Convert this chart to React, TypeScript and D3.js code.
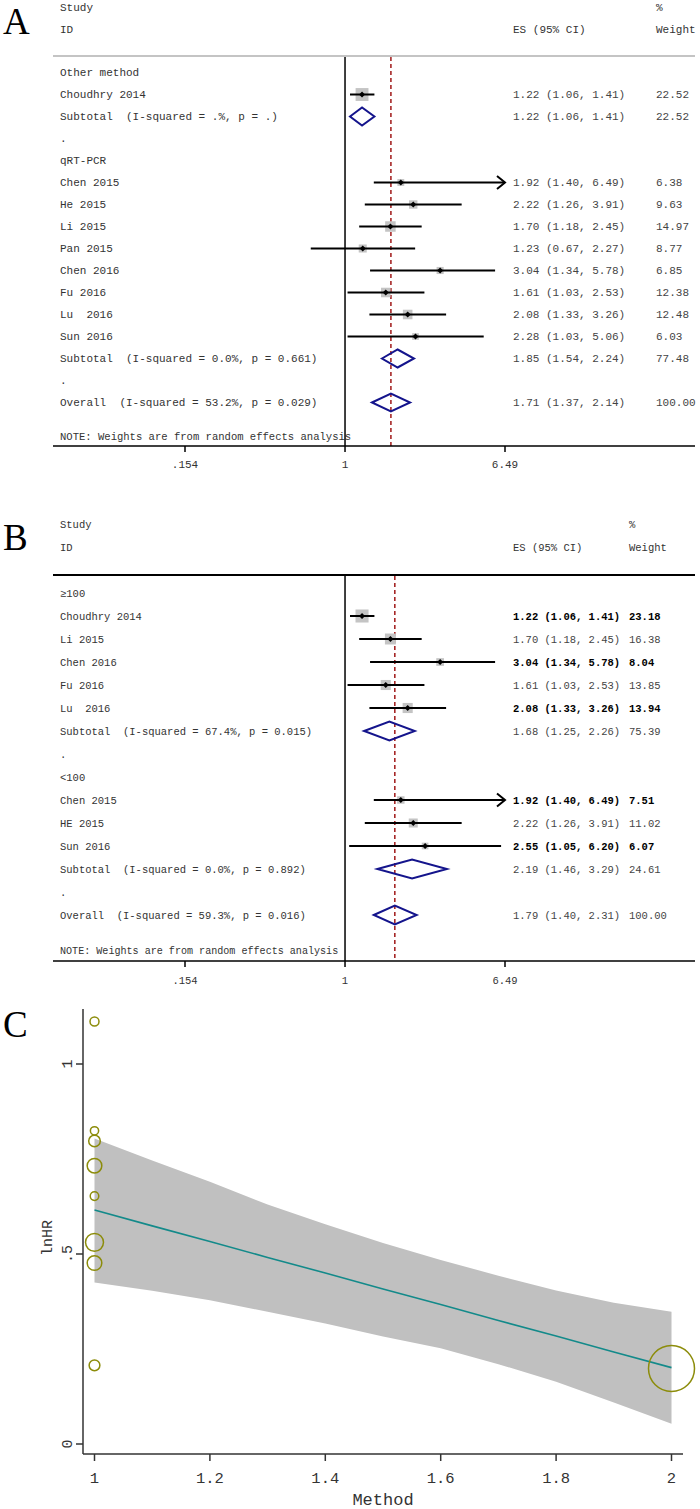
import * as d3 from 'd3';

const MONO = '"Liberation Mono", "DejaVu Sans Mono", monospace';
const SERIF = '"Liberation Serif", "Times New Roman", serif';

// panel A – subgroups by detection method
const aLabels = [
  'Other method', 'Choudhry 2014', 'Subtotal  (I-squared = .%, p = .)', '.',
  'qRT-PCR', 'Chen 2015', 'He 2015', 'Li 2015', 'Pan 2015', 'Chen 2016', 'Fu 2016',
  'Lu  2016', 'Sun 2016', 'Subtotal  (I-squared = 0.0%, p = 0.661)', '.',
  'Overall  (I-squared = 53.2%, p = 0.029)',
];
const aKinds = [
  'head', 'study', 'sub', 'blank', 'head', 'study', 'study', 'study', 'study', 'study',
  'study', 'study', 'study', 'sub', 'blank', 'sub',
];
const aES = [null, 1.22, 1.22, null, null, 1.92, 2.22, 1.70, 1.23, 3.04, 1.61, 2.08, 2.28, 1.85, null, 1.71];
const aLo = [null, 1.06, 1.06, null, null, 1.40, 1.26, 1.18, 0.67, 1.34, 1.03, 1.33, 1.03, 1.54, null, 1.37];
const aHi = [null, 1.41, 1.41, null, null, 6.49, 3.91, 2.45, 2.27, 5.78, 2.53, 3.26, 5.06, 2.24, null, 2.14];
const aWt = [null, 22.52, 22.52, null, null, 6.38, 9.63, 14.97, 8.77, 6.85, 12.38, 12.48, 6.03, 77.48, null, 100.0];
const aBold = aLabels.map(() => false);

// panel B – subgroups by sample size
const bLabels = [
  '≥100', 'Choudhry 2014', 'Li 2015', 'Chen 2016', 'Fu 2016', 'Lu  2016',
  'Subtotal  (I-squared = 67.4%, p = 0.015)', '.', '<100', 'Chen 2015', 'HE 2015',
  'Sun 2016', 'Subtotal  (I-squared = 0.0%, p = 0.892)', '.',
  'Overall  (I-squared = 59.3%, p = 0.016)',
];
const bKinds = [
  'head', 'study', 'study', 'study', 'study', 'study', 'sub', 'blank', 'head', 'study',
  'study', 'study', 'sub', 'blank', 'sub',
];
const bES = [null, 1.22, 1.70, 3.04, 1.61, 2.08, 1.68, null, null, 1.92, 2.22, 2.55, 2.19, null, 1.79];
const bLo = [null, 1.06, 1.18, 1.34, 1.03, 1.33, 1.25, null, null, 1.40, 1.26, 1.05, 1.46, null, 1.40];
const bHi = [null, 1.41, 2.45, 5.78, 2.53, 3.26, 2.26, null, null, 6.49, 3.91, 6.20, 3.29, null, 2.31];
const bWt = [null, 23.18, 16.38, 8.04, 13.85, 13.94, 75.39, null, null, 7.51, 11.02, 6.07, 24.61, null, 100.0];
const bBold = [false, true, false, true, false, true, false, false, false, true, false, true, false, false, false];

const forestTicks = [0.154, 1, 6.49];
const forestTickLabels = ['.154', '1', '6.49'];

// panel C – meta-regression of lnHR on method
const cMethod = [1, 1, 1, 1, 1, 1, 1, 1, 2];
const cHR = [1.92, 2.22, 1.70, 1.23, 3.04, 1.61, 2.08, 2.28, 1.22];
const cLo = [1.40, 1.26, 1.18, 0.67, 1.34, 1.03, 1.33, 1.03, 1.06];
const cHi = [6.49, 3.91, 2.45, 2.27, 5.78, 2.53, 3.26, 5.06, 1.41];
const bandX = [1, 1.1, 1.2, 1.3, 1.4, 1.5, 1.6, 1.7, 1.8, 1.9, 2];
const bandUpper = [0.804, 0.746, 0.690, 0.630, 0.578, 0.529, 0.484, 0.443, 0.404, 0.372, 0.348];
const bandLower = [0.425, 0.403, 0.378, 0.348, 0.317, 0.283, 0.252, 0.210, 0.164, 0.109, 0.053];
const bandFit = [0.616, 0.574, 0.533, 0.491, 0.450, 0.408, 0.367, 0.325, 0.284, 0.242, 0.201];
const cXTicks = [1, 1.2, 1.4, 1.6, 1.8, 2];
const cYTicks = [0, 0.5, 1];
const cYTickLabels = ['0', '.5', '1'];

const fmt = (v) => v.toFixed(2);
const pre = { whiteSpace: 'pre' };

function ForestPanel({ letter, cfg, labels, kinds, es, lo, hi, wt, bold }) {
  const x = d3.scaleLog().domain([forestTicks[0], forestTicks[2]]).range([185, 505]);
  const box = d3.scaleSqrt().domain([0, 23]).range([0, 13]);
  const rowY = (i) => cfg.rowTop + i * cfg.rowStep;
  const pooled = es[es.length - 1];
  const fs = cfg.fontSize;

  return (
    <g>
      <text x={3} y={cfg.letterY} fontFamily={SERIF} fontSize={37} fill="#000">{letter}</text>
      <g fontFamily={MONO} fontSize={fs} fill="#333">
        <text x={60} y={cfg.headY[0]} dy="0.35em">Study</text>
        <text x={60} y={cfg.headY[1]} dy="0.35em">ID</text>
        <text x={cfg.esX} y={cfg.headY[1]} dy="0.35em">ES (95% CI)</text>
        <text x={cfg.wtX} y={cfg.headY[0]} dy="0.35em">%</text>
        <text x={cfg.wtX} y={cfg.headY[1]} dy="0.35em">Weight</text>
      </g>
      <line x1={53} x2={695} y1={cfg.lineY} y2={cfg.lineY} stroke={cfg.lineColor} strokeWidth={2} />

      {labels.map((lab, i) => (
        <text key={'l' + i} x={60} y={rowY(i)} dy="0.35em" fontFamily={MONO} fontSize={fs} fill="#333" style={pre}>
          {lab}
        </text>
      ))}
      <text x={60} y={cfg.noteY} dy="0.35em" fontFamily={MONO} fontSize={fs * 0.96} fill="#333">
        NOTE: Weights are from random effects analysis
      </text>

      {/* reference line at 1 and pooled estimate */}
      <line x1={x(1)} x2={x(1)} y1={cfg.lineY + 1} y2={cfg.axisY} stroke="#000" strokeWidth={1.5} />
      <line x1={x(pooled)} x2={x(pooled)} y1={cfg.lineY + 1} y2={cfg.axisY}
        stroke="#a01818" strokeWidth={1.5} strokeDasharray="4,3" />

      {kinds.map((k, i) => {
        if (k !== 'study') return null;
        const y = rowY(i);
        const s = box(wt[i]);
        const cx = x(es[i]);
        const x1 = x(lo[i]);
        const capped = hi[i] >= forestTicks[2];
        const x2 = x(Math.min(hi[i], forestTicks[2]));
        return (
          <g key={'s' + i}>
            <rect x={cx - s / 2} y={y - s / 2} width={s} height={s} fill="#c4c4c4" />
            <line x1={x1} x2={x2} y1={y} y2={y} stroke="#000" strokeWidth={2} />
            {capped && (
              <path d={`M${x2 - 8},${y - 6.5}L${x2},${y}L${x2 - 8},${y + 6.5}`} fill="none" stroke="#000" strokeWidth={2} />
            )}
            <path d={`M${cx - 3},${y}L${cx},${y - 3}L${cx + 3},${y}L${cx},${y + 3}Z`} fill="#000" />
          </g>
        );
      })}

      {kinds.map((k, i) => {
        if (k !== 'sub') return null;
        const y = rowY(i);
        const h = cfg.diamondH;
        return (
          <path key={'d' + i}
            d={`M${x(lo[i])},${y}L${x(es[i])},${y - h}L${x(hi[i])},${y}L${x(es[i])},${y + h}Z`}
            fill="none" stroke="#14148c" strokeWidth={2} />
        );
      })}

      {kinds.map((k, i) => {
        if (es[i] == null) return null;
        const y = rowY(i);
        return (
          <g key={'t' + i} fontFamily={MONO} fontSize={fs}
            fill={bold[i] ? '#000' : '#444'} fontWeight={bold[i] ? 'bold' : 'normal'}>
            <text x={cfg.esX} y={y} dy="0.35em">{`${fmt(es[i])} (${fmt(lo[i])}, ${fmt(hi[i])})`}</text>
            <text x={cfg.wtX} y={y} dy="0.35em">{fmt(wt[i])}</text>
          </g>
        );
      })}

      <line x1={53} x2={695} y1={cfg.axisY} y2={cfg.axisY} stroke="#000" strokeWidth={1.5} />
      {forestTicks.map((t, i) => (
        <g key={'k' + i}>
          <line x1={x(t)} x2={x(t)} y1={cfg.axisY} y2={cfg.axisY + 6} stroke="#000" strokeWidth={1.5} />
          <text x={x(t)} y={cfg.tickY} dy="0.35em" textAnchor="middle" fontFamily={MONO} fontSize={fs} fill="#333">
            {forestTickLabels[i]}
          </text>
        </g>
      ))}
    </g>
  );
}

function MetaRegPanel() {
  const x = d3.scaleLinear().domain([1, 2]).range([94.5, 671.5]);
  const y = d3.scaleLinear().domain([0, 1]).range([1444, 1064]);
  const prec = cHR.map((_, i) => {
    const se = (Math.log(cHi[i]) - Math.log(cLo[i])) / 3.92;
    return 1 / (se * se);
  });
  const r = d3.scaleSqrt().domain([0, d3.max(prec)]).range([0, 23]);
  const area = d3.area().x((d) => x(d[0])).y0((d) => y(d[1])).y1((d) => y(d[2]));
  const line = d3.line().x((d) => x(d[0])).y((d) => y(d[1]));
  const bandPts = bandX.map((v, i) => [v, bandLower[i], bandUpper[i]]);
  const fitPts = bandX.map((v, i) => [v, bandFit[i]]);
  const axisX = 83;
  const axisY = 1454;

  return (
    <g>
      <text x={3} y={1037} fontFamily={SERIF} fontSize={37} fill="#000">C</text>
      <path d={area(bandPts)} fill="#c0c0c0" />
      <path d={line(fitPts)} fill="none" stroke="#138a8a" strokeWidth={1.6} />
      {cHR.map((h, i) => (
        <circle key={i} cx={x(cMethod[i])} cy={y(Math.log(h))} r={r(prec[i])}
          fill="none" stroke="#8c8c0a" strokeWidth={1.5} />
      ))}

      <line x1={axisX} x2={axisX} y1={1009} y2={axisY} stroke="#333" strokeWidth={1.5} />
      <line x1={axisX} x2={683} y1={axisY} y2={axisY} stroke="#333" strokeWidth={1.5} />
      {cYTicks.map((t, i) => (
        <g key={'y' + i}>
          <line x1={axisX - 7} x2={axisX} y1={y(t)} y2={y(t)} stroke="#333" strokeWidth={1.5} />
          <text transform={`translate(67,${y(t)}) rotate(-90)`} textAnchor="middle" dy="0.35em"
            fontFamily={MONO} fontSize={15} fill="#333">{cYTickLabels[i]}</text>
        </g>
      ))}
      {cXTicks.map((t, i) => (
        <g key={'x' + i}>
          <line x1={x(t)} x2={x(t)} y1={axisY} y2={axisY + 7} stroke="#333" strokeWidth={1.5} />
          <text x={x(t)} y={1478} dy="0.35em" textAnchor="middle" fontFamily={MONO} fontSize={15.5} fill="#333">
            {String(t)}
          </text>
        </g>
      ))}
      <text transform="translate(47,1238) rotate(-90)" textAnchor="middle" dy="0.35em"
        fontFamily={MONO} fontSize={15} fill="#333">lnHR</text>
      <text x={383} y={1499} dy="0.35em" textAnchor="middle" fontFamily={MONO} fontSize={17} fill="#333">
        Method
      </text>
    </g>
  );
}

const cfgA = {
  letterY: 34, headY: [7.5, 29], lineY: 56, lineColor: '#c4c4c4', rowTop: 72.5, rowStep: 22,
  noteY: 436, axisY: 446, tickY: 464, esX: 513, wtX: 656, fontSize: 11, diamondH: 9,
};
const cfgB = {
  letterY: 550, headY: [524, 547], lineY: 575, lineColor: '#000', rowTop: 593, rowStep: 23,
  noteY: 950, axisY: 961, tickY: 980, esX: 513, wtX: 629, fontSize: 10.5, diamondH: 9.5,
};

export default function App() {
  return (
    <svg width={700} height={1509} style={{ position: 'absolute', left: 0, top: 0, display: 'block', background: '#fff' }}>
      <ForestPanel letter="A" cfg={cfgA} labels={aLabels} kinds={aKinds} es={aES} lo={aLo} hi={aHi} wt={aWt} bold={aBold} />
      <ForestPanel letter="B" cfg={cfgB} labels={bLabels} kinds={bKinds} es={bES} lo={bLo} hi={bHi} wt={bWt} bold={bBold} />
      <MetaRegPanel />
    </svg>
  );
}
